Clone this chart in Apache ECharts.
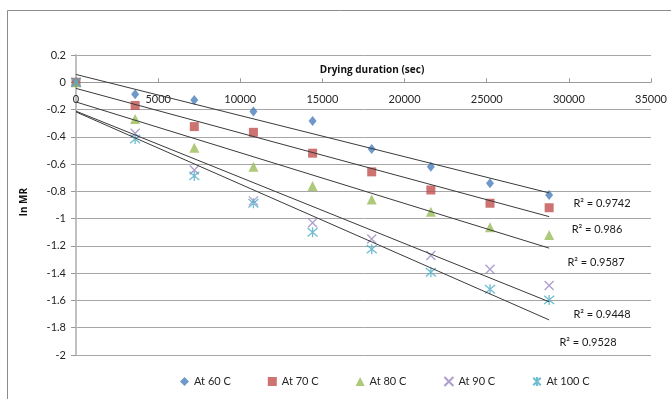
<!DOCTYPE html>
<html>
<head>
<meta charset="utf-8">
<script src="https://cdn.jsdelivr.net/npm/echarts@6/dist/echarts.min.js"></script>
<style>
html,body{margin:0;padding:0;background:#fff;}
#chart{width:671px;height:399px;}
</style>
</head>
<body>
<div id="chart"></div>
<script>
// ---- data ----
const durations = [0, 3600, 7200, 10800, 14400, 18000, 21600, 25200, 28800];
const lnMR60  = [0, -0.088, -0.13, -0.215, -0.284, -0.49, -0.62, -0.74, -0.826];
const lnMR70  = [0, -0.17, -0.325, -0.367, -0.52, -0.657, -0.79, -0.887, -0.92];
const lnMR80  = [0, -0.27, -0.48, -0.62, -0.76, -0.86, -0.95, -1.063, -1.12];
const lnMR90  = [0, -0.374, -0.643, -0.87, -1.03, -1.149, -1.27, -1.371, -1.49];
const lnMR100 = [0, -0.416, -0.687, -0.887, -1.10, -1.224, -1.393, -1.518, -1.596];
const seriesNames = ['At 60 C', 'At 70 C', 'At 80 C', 'At 90 C', 'At 100 C'];
const r2Labels = ['R\u00b2 = 0.9742', 'R\u00b2 = 0.986', 'R\u00b2 = 0.9587', 'R\u00b2 = 0.9448', 'R\u00b2 = 0.9528'];
const xTitle = 'Drying duration (sec)';
const yTitle = 'ln MR';
const yMin = -2, yMax = 0.2;

const FONT = 'Lato, "Open Sans", sans-serif';
const BOLD_FONT = '"Open Sans", Lato, sans-serif';
const allY = [lnMR60, lnMR70, lnMR80, lnMR90, lnMR100];
const colors = ['#4A7EBB', '#C0504D', '#9BBB59', '#9A86BF', '#4BACC6'];
const symbols = [
  'diamond',
  'rect',
  'triangle',
  'path://M0,0L10,10M10,0L0,10',
  'path://M0,0L10,10M10,0L0,10M5,-1L5,11'
];
const sizes = [[8, 10], 9, 10, 9, 10];

function linFit(xs, ys) {
  const n = xs.length;
  let sx = 0, sy = 0, sxx = 0, sxy = 0;
  for (let i = 0; i < n; i++) { sx += xs[i]; sy += ys[i]; sxx += xs[i]*xs[i]; sxy += xs[i]*ys[i]; }
  const m = (n*sxy - sx*sy) / (n*sxx - sx*sx);
  const b = (sy - m*sx) / n;
  return {m, b};
}

const series = [];
allY.forEach((ys, k) => {
  const stroked = k >= 3;
  series.push({
    name: seriesNames[k],
    type: 'scatter',
    data: durations.map((d, i) => [d, ys[i]]),
    symbol: symbols[k],
    symbolSize: sizes[k],
    itemStyle: stroked
      ? {color: 'rgba(0,0,0,0)', borderColor: colors[k], borderWidth: 1.3}
      : {color: colors[k]},
    z: 2
  });
});
allY.forEach((ys, k) => {
  const f = linFit(durations, ys);
  const x0 = durations[0], x1 = durations[durations.length - 1];
  series.push({
    name: 'trend' + k,
    type: 'line',
    data: [[x0, f.b + f.m*x0], [x1, f.b + f.m*x1]],
    symbol: 'none',
    silent: true,
    lineStyle: {color: '#3a3a3a', width: 1},
    z: 3
  });
});

const gridTop = 55, gridBottom = 44, H = 399;
const gridH = H - gridTop - gridBottom;
// place the x axis where y = 0 (measured from the top edge of the grid)
const zeroOffset = -gridH * (yMax - 0) / (yMax - yMin);

const r2Pos = [[602, 203], [597, 229], [596, 262], [602, 314], [588, 342]];
const graphics = [
  {type: 'rect', shape: {x: 7.5, y: 10.5, width: 720, height: 420},
   style: {fill: 'none', stroke: '#8c8c8c', lineWidth: 1}, silent: true, z: -10},
  {type: 'text', x: 372, y: 70,
   style: {text: xTitle, fontSize: 10, fontWeight: 'bold', fontFamily: BOLD_FONT, fill: '#111', align: 'center', verticalAlign: 'middle'}},
  {type: 'text', x: 24, y: 202, rotation: Math.PI/2,
   style: {text: yTitle, fontSize: 10, fontWeight: 'bold', fontFamily: BOLD_FONT, fill: '#111', align: 'center', verticalAlign: 'middle'}}
];
r2Labels.forEach((t, k) => {
  graphics.push({type: 'text', x: r2Pos[k][0], y: r2Pos[k][1],
    style: {text: t, fontSize: 11, fontFamily: FONT, fill: '#1a1a1a', align: 'center', verticalAlign: 'middle'}});
});

const chart = echarts.init(document.getElementById('chart'), null, {renderer: 'canvas'});
chart.setOption({
  animation: false,
  backgroundColor: '#fff',
  textStyle: {fontFamily: FONT},
  grid: {left: 76, right: 20, top: gridTop, bottom: gridBottom, containLabel: false},
  legend: {
    data: seriesNames,
    top: 371, left: 175,
    itemWidth: 9, itemHeight: 9, itemGap: 37,
    textStyle: {fontSize: 11, color: '#262626', fontFamily: FONT}
  },
  xAxis: {
    type: 'value', min: 0, max: 35000, interval: 5000,
    position: 'top', offset: zeroOffset,
    axisLine: {onZero: false, lineStyle: {color: '#9a9a9a', width: 1}},
    axisTick: {inside: false, length: 4, lineStyle: {color: '#9a9a9a'}},
    axisLabel: {inside: true, margin: 12, fontSize: 11, color: '#262626', fontFamily: FONT,
      showMinLabel: true, showMaxLabel: true, formatter: v => String(v)},
    splitLine: {show: false}
  },
  yAxis: {
    type: 'value', min: yMin, max: yMax, interval: 0.2,
    axisLine: {show: true, onZero: false, lineStyle: {color: '#c0c0c0', width: 2}},
    axisTick: {show: true, length: 5, lineStyle: {color: '#9a9a9a'}},
    axisLabel: {margin: 10, fontSize: 11, color: '#262626', fontFamily: FONT,
      formatter: v => String(Math.round(v*10)/10)},
    splitLine: {lineStyle: {color: '#a6a6a6', width: 1}}
  },
  graphic: graphics,
  series: series
});
</script>
</body>
</html>
